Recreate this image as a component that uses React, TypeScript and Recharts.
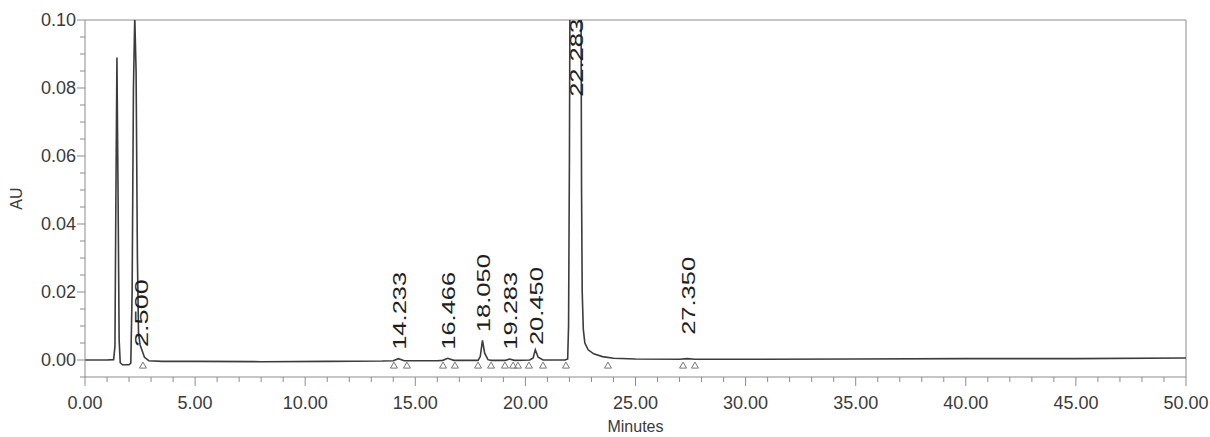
import {
  ComposedChart,
  Line,
  Scatter,
  XAxis,
  YAxis,
  Label,
  ReferenceLine,
} from "recharts";

// chromatogram trace: [minutes, AU]
const TRACE: [number, number][] = [
  [0, 0.0], [0.5, 0.0], [1.0, 0.0], [1.3, 0.0001], [1.36, 0.004],
  [1.4, 0.045], [1.45, 0.089], [1.5, 0.05], [1.55, 0.006], [1.6, -0.0008],
  [1.7, -0.0014], [2.0, -0.0014], [2.08, -0.0009], [2.14, 0.02], [2.2, 0.08],
  [2.26, 0.101], [2.32, 0.085], [2.38, 0.03], [2.43, 0.008], [2.5, 0.0045],
  [2.58, 0.003], [2.7, 0.0008], [2.9, -0.0002], [3.5, -0.0004], [5, -0.0004],
  [8, -0.0005], [11, -0.0004], [13.5, -0.0003], [14.0, -0.0002], [14.23, 0.0004],
  [14.5, -0.0002], [16.0, -0.0002], [16.25, -0.0001], [16.47, 0.0005], [16.75, -0.0001],
  [17.85, -0.0001], [17.95, 0.001], [18.05, 0.0058], [18.15, 0.002], [18.3, 0.0001],
  [18.45, -0.0001], [19.1, -0.0001], [19.28, 0.0003], [19.5, -0.0001], [20.2, 0.0],
  [20.35, 0.0006], [20.45, 0.003], [20.58, 0.0008], [20.8, 0.0], [21.8, 0.0],
  [21.92, 0.0003], [21.96, 0.01], [22.0, 0.06], [22.04, 0.14], [22.08, 0.2],
  [22.28, 0.24], [22.48, 0.2], [22.52, 0.12], [22.55, 0.05], [22.58, 0.02],
  [22.63, 0.009], [22.7, 0.005], [22.85, 0.003], [23.1, 0.0018], [23.5, 0.001],
  [24.0, 0.0005], [25, 0.0003], [27.0, 0.0002], [27.35, 0.0004], [27.7, 0.0002],
  [30, 0.0002], [35, 0.0003], [40, 0.0004], [45, 0.0004], [50, 0.0006],
];

// integrated peaks: retention time and where its label sits (AU)
const PEAK_TIMES = [2.5, 14.233, 16.466, 18.05, 19.283, 20.45, 22.283, 27.35];
const PEAK_LABEL_Y = [0.0038, 0.003, 0.003, 0.0082, 0.003, 0.0044, 0.0774, 0.0074];

// start/end markers of the integration
const MARKER_TIMES = [
  2.63, 14.03, 14.62, 16.26, 16.8, 17.85, 18.44, 19.07, 19.44, 19.66,
  20.16, 20.8, 21.84, 23.75, 27.16, 27.7,
];
const MARKER_Y = -0.0015;

const X_MIN = 0;
const X_MAX = 50;
const Y_MIN = -0.005;
const Y_MAX = 0.1;
const X_TICKS = Array.from({ length: 51 }, (_, i) => i);
const Y_TICKS = Array.from({ length: 22 }, (_, i) => (i - 1) * 5 / 1000);

const FONT = "'Liberation Sans', Arial, sans-serif";
const AXIS = "#8c8c8c";
const INK = "#3a3a3a";

const traceData = TRACE.map(([t, v]) => ({ t, v }));
const peakData = PEAK_TIMES.map((t, i) => ({
  t,
  v: PEAK_LABEL_Y[i],
  label: t.toFixed(3),
}));
const markerData = MARKER_TIMES.map((t) => ({ t, v: MARKER_Y }));

function XTick(props: any) {
  const { x, y, payload } = props;
  const v = payload.value as number;
  const major = Math.abs(v % 5) < 1e-9;
  return (
    <g>
      <line x1={x} x2={x} y1={y} y2={y + (major ? 9 : 5)} stroke={AXIS} />
      {major && (
        <text x={x} y={y + 32} textAnchor="middle" fontSize={18} fill={INK} fontFamily={FONT}>
          {v.toFixed(2)}
        </text>
      )}
    </g>
  );
}

function YTick(props: any) {
  const { x, y, payload } = props;
  const v = payload.value as number;
  const major = Math.round(Math.abs(v) * 1000) % 20 === 0;
  return (
    <g>
      <line x1={x - (major ? 8 : 5)} x2={x} y1={y} y2={y} stroke={AXIS} />
      {major && (
        <text x={x - 9} y={y + 6} textAnchor="end" fontSize={18} fill={INK} fontFamily={FONT}>
          {v.toFixed(2)}
        </text>
      )}
    </g>
  );
}

function PeakLabel(props: any) {
  const { cx, cy, payload } = props;
  const len = payload.label.length >= 6 ? 78 : 68;
  return (
    <text
      x={cx}
      y={cy + 1}
      transform={`rotate(-90 ${cx} ${cy})`}
      dominantBaseline="central"
      fontSize={19}
      fill="#1e1e1e"
      fontFamily={FONT}
      textLength={len}
      lengthAdjust="spacingAndGlyphs"
    >
      {payload.label}
    </text>
  );
}

function Marker(props: any) {
  const { cx, cy } = props;
  return (
    <polygon
      points={`${cx - 3.5},${cy + 3} ${cx + 3.5},${cy + 3} ${cx},${cy - 3}`}
      fill="none"
      stroke="#777"
      strokeWidth={1}
    />
  );
}

export default function App() {
  return (
    <div style={{ position: "absolute", left: 0, top: 0, background: "#fff" }}>
      <ComposedChart
        width={1210}
        height={437}
        margin={{ top: 20, right: 24, bottom: 0, left: 0 }}
      >
        <XAxis
          dataKey="t"
          type="number"
          domain={[X_MIN, X_MAX]}
          ticks={X_TICKS}
          interval={0}
          tickSize={0}
          tickMargin={0}
          tickLine={false}
          tick={<XTick />}
          height={60}
          axisLine={{ stroke: AXIS }}
          allowDataOverflow
        >
          <Label
            value="Minutes"
            position="insideBottom"
            offset={5}
            style={{ fontSize: 16, fill: INK, fontFamily: FONT }}
          />
        </XAxis>
        <YAxis
          dataKey="v"
          type="number"
          domain={[Y_MIN, Y_MAX]}
          ticks={Y_TICKS}
          interval={0}
          tickSize={0}
          tickMargin={0}
          tickLine={false}
          tick={<YTick />}
          width={85}
          axisLine={{ stroke: AXIS }}
          allowDataOverflow
        >
          <Label
            value="AU"
            angle={-90}
            position="insideLeft"
            offset={16}
            style={{ fontSize: 16, fill: INK, fontFamily: FONT, textAnchor: "middle" }}
          />
        </YAxis>
        <ReferenceLine y={Y_MAX} stroke={AXIS} />
        <ReferenceLine x={X_MAX} stroke={AXIS} />
        <Line
          data={traceData}
          dataKey="v"
          type="linear"
          stroke="#3c3c3c"
          strokeWidth={1.6}
          dot={false}
          activeDot={false}
          isAnimationActive={false}
        />
        <Scatter data={markerData} dataKey="v" shape={<Marker />} isAnimationActive={false} />
        <Scatter data={peakData} dataKey="v" shape={<PeakLabel />} isAnimationActive={false} />
      </ComposedChart>
    </div>
  );
}
